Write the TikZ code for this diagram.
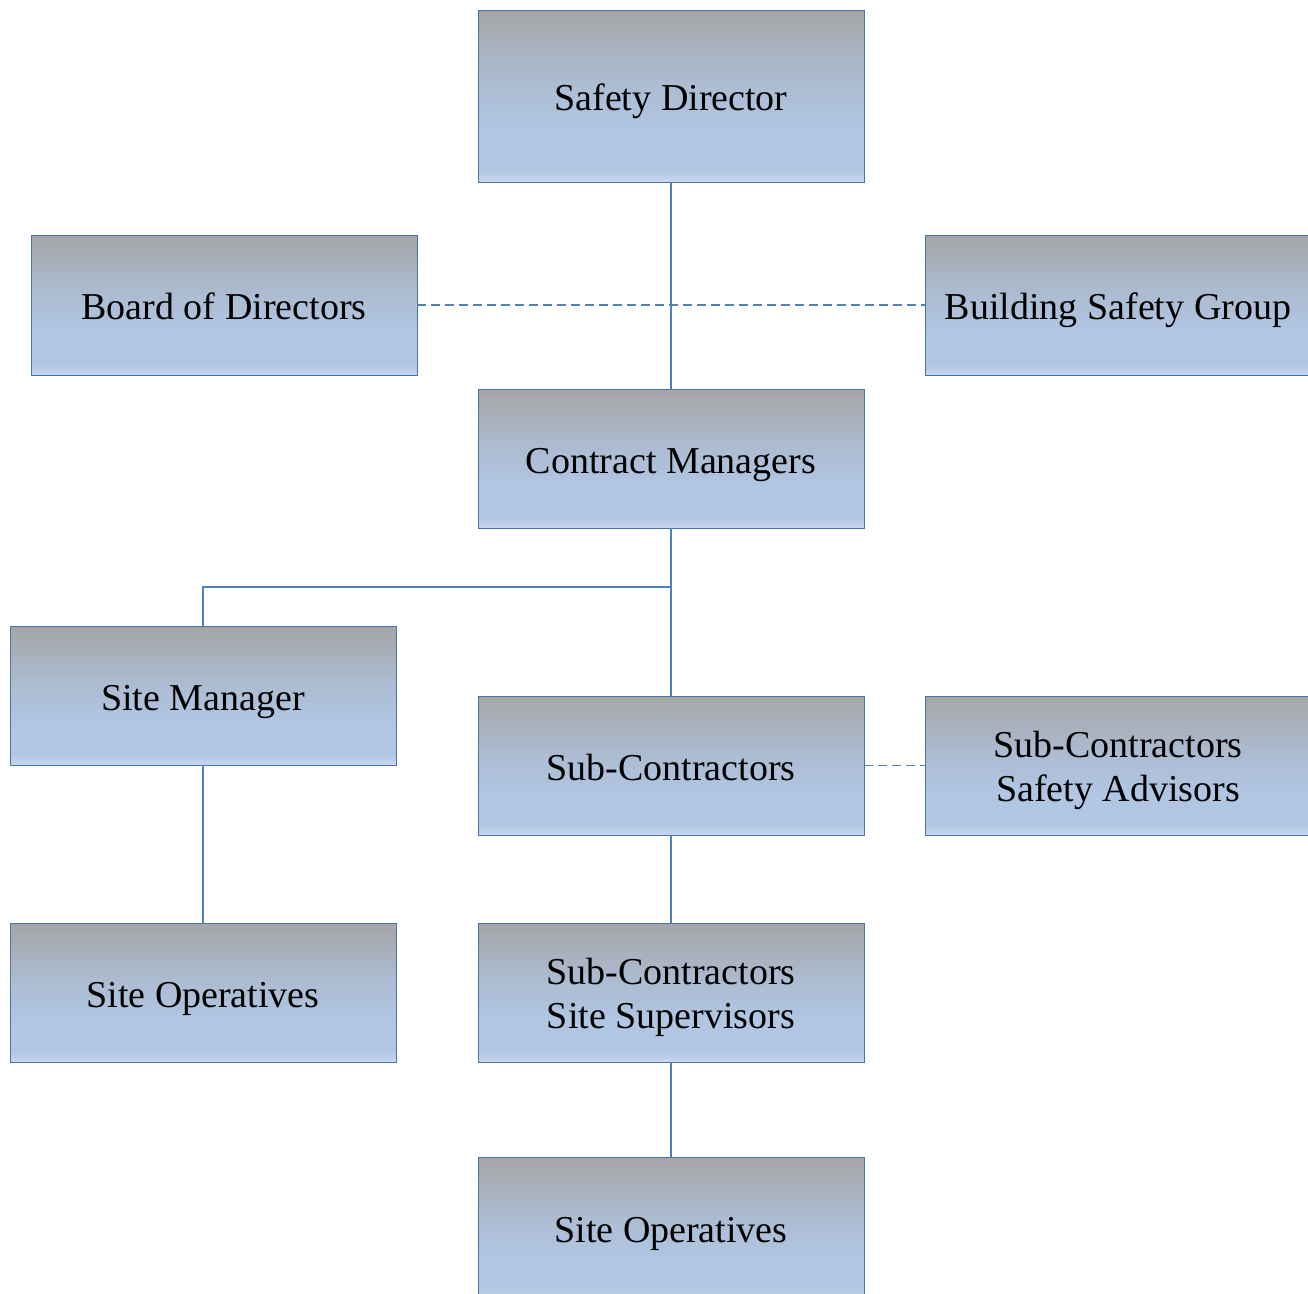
\documentclass[tikz,border=0pt]{standalone}
\usepackage{fontspec}
\setmainfont{Liberation Serif}
\definecolor{ctop}{RGB}{165,165,166}
\definecolor{cmid}{RGB}{172,187,208}
\definecolor{clow}{RGB}{176,198,227}
\definecolor{cbot}{RGB}{200,215,236}
\definecolor{lineblue}{RGB}{79,129,189}
\pgfdeclareverticalshading{boxshade}{100bp}{color(0bp)=(cbot); color(25bp)=(cbot); color(29bp)=(clow); color(40bp)=(clow); color(55bp)=(cmid); color(75bp)=(ctop); color(100bp)=(ctop)}
\newcommand{\firststrut}{\rule{0pt}{37pt}}
\begin{document}
\begin{tikzpicture}[x=1pt,y=-1pt,
  box/.style={draw=lineblue!90!black, line width=0.8pt, shading=boxshade, anchor=north west,
    minimum width=386pt, inner sep=0pt, outer sep=0pt, align=center,
    font=\fontsize{38}{44}\selectfont, text=black,
    execute at begin node={\rule[-9pt]{0pt}{47pt}}},
  conn/.style={draw=lineblue, line width=1.6pt},
  dconn/.style={draw=lineblue, line width=1.6pt, dash pattern=on 9pt off 5pt}]
\clip (0,0) rectangle (1308,1293);
\fill[white] (0,0) rectangle (1308,1293);
\node[box, minimum height=172pt] (sd) at (478,10) {Safety Director};
\node[box, minimum height=140pt] (bod) at (31,235) {Board of Directors};
\node[box, minimum height=140pt] (bsg) at (925,235) {Building Safety Group};
\node[box, minimum height=139pt] (cm) at (478,389) {Contract Managers};
\node[box, minimum height=139pt] (sm) at (10,626) {Site Manager};
\node[box, minimum height=139pt] (sc) at (478,696) {Sub-Contractors};
\node[box, minimum height=139pt] (sca) at (925,696) {\firststrut Sub-Contractors\\Safety Advisors};
\node[box, minimum height=139pt] (so1) at (10,923) {Site Operatives};
\node[box, minimum height=139pt] (scs) at (478,923) {\firststrut Sub-Contractors\\Site Supervisors};
\node[box, minimum height=142pt] (so2) at (478,1157) {Site Operatives};
\coordinate (j) at (671,587);
\draw[conn] (sd.south) -- (cm.north);
\draw[dconn] (bod.east) -- (bsg.west);
\draw[conn] (cm.south) -- (sc.north);
\draw[conn] (j) -| (sm.north);
\draw[conn] (sm.south) -- (so1.north);
\draw[conn] (sc.south) -- (scs.north);
\draw[conn] (scs.south) -- (so2.north);
\draw[dconn] (sc.east) -- (sca.west);
\end{tikzpicture}
\end{document}
